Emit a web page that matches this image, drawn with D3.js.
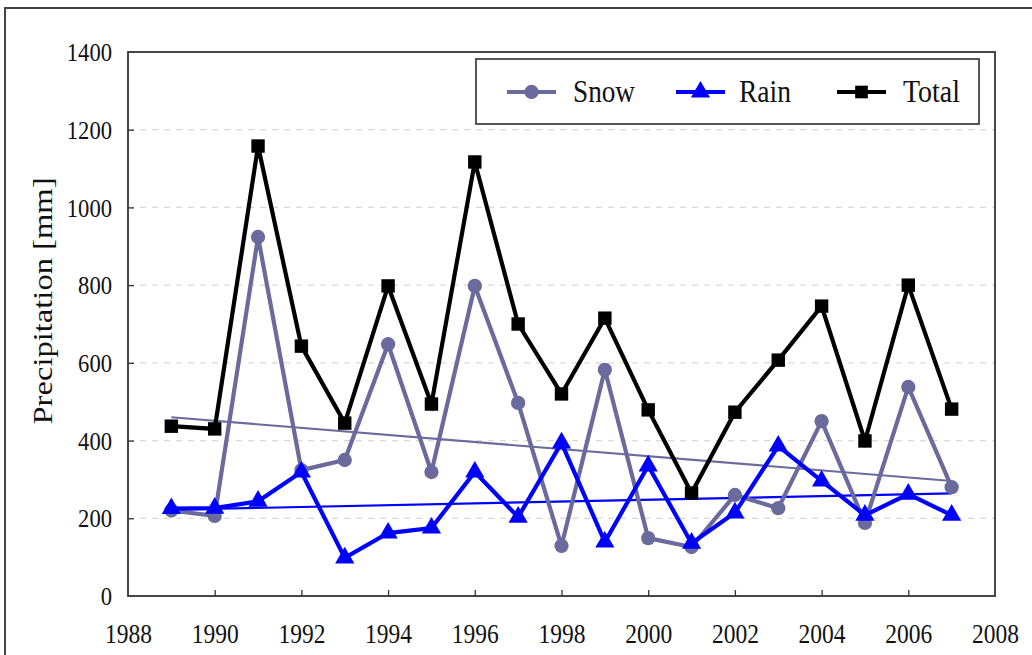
<!DOCTYPE html>
<html><head><meta charset="utf-8">
<script src="https://d3js.org/d3.v7.min.js"></script>
<style>body{margin:0;background:#fff}svg{display:block}</style>
</head><body>
<script>
const years = [1989,1990,1991,1992,1993,1994,1995,1996,1997,1998,1999,2000,2001,2002,2003,2004,2005,2006,2007];
const snow  = [220,206,924,324,350,648,319,798,497,129,582,149,126,260,226,450,188,538,280];
const rain  = [225,226,244,319,98,162,175,319,203,394,139,335,136,214,386,296,208,262,208];
const total = [437,430,1158,643,445,798,494,1117,700,520,715,479,265,473,607,746,399,800,481];
const snowTrend = [[1989,460],[2007,296]];
const rainTrend = [[1989,222],[2007,264]];
const xTicks = [1988,1990,1992,1994,1996,1998,2000,2002,2004,2006,2008];
const yTicks = [0,200,400,600,800,1000,1200,1400];
const seriesNames = ["Snow","Rain","Total"];

const W=1032,H=655;
const svg=d3.select("body").append("svg").attr("width",W).attr("height",H);
const font="'Liberation Serif', 'DejaVu Serif', serif";
// outer frame
svg.append("rect").attr("x",5).attr("y",8).attr("width",1100).attr("height",700)
  .attr("fill","none").attr("stroke","#444").attr("stroke-width",2);

const L=128,R=995,T=52,B=596;
const x=d3.scaleLinear().domain([1988,2008]).range([L,R]);
const y=d3.scaleLinear().domain([0,1400]).range([B,T]);

// grid
svg.append("g").selectAll("line").data(yTicks.filter(d=>d>0&&d<1400)).join("line")
  .attr("x1",L).attr("x2",R).attr("y1",d=>y(d)).attr("y2",d=>y(d))
  .attr("stroke","#d8d8d8").attr("stroke-width",1.2).attr("stroke-dasharray","6,6");

// axes
const gx=svg.append("g").attr("transform",`translate(0,${B})`)
  .call(d3.axisBottom(x).tickValues(xTicks).tickFormat(d3.format("d")).tickSizeInner(-6).tickSizeOuter(0));
const gy=svg.append("g").attr("transform",`translate(${L},0)`)
  .call(d3.axisLeft(y).tickValues(yTicks).tickFormat(d3.format("d")).tickSizeInner(-6).tickSizeOuter(0));
[gx,gy].forEach(g=>{
  g.select(".domain").remove();
  g.selectAll("line").attr("stroke","#333").attr("stroke-width",1.3);
  g.selectAll("text").attr("font-family",font).attr("fill","#111");
});
gx.selectAll("text").attr("font-size",27).attr("y",47).attr("dy",0)
  .attr("textLength",47).attr("lengthAdjust","spacingAndGlyphs");
gy.selectAll("text").attr("font-size",26).attr("x",-16).attr("dy","0.33em")
  .attr("textLength",d=>String(d).length*11.3).attr("lengthAdjust","spacingAndGlyphs");
gx.selectAll(".tick").filter(d=>d===1988||d===2008).select("line").remove();
gy.selectAll(".tick").filter(d=>d===0||d===1400).select("line").remove();
// plot box
svg.append("rect").attr("x",L).attr("y",T).attr("width",R-L).attr("height",B-T)
  .attr("fill","none").attr("stroke","#333").attr("stroke-width",1.8);

// y title
svg.append("text").attr("transform",`translate(52,301) rotate(-90)`)
  .attr("text-anchor","middle").attr("font-family",font).attr("font-size",27).attr("fill","#111")
  .attr("textLength",247).attr("lengthAdjust","spacingAndGlyphs")
  .text("Precipitation [mm]");

const snowC="#6a6a9c", rainC="#0000ff", totC="#000";
// trend lines
const tl=d3.line().x(d=>x(d[0])).y(d=>y(d[1]));
svg.append("path").datum(snowTrend).attr("d",tl).attr("stroke",snowC).attr("stroke-width",2.2).attr("fill","none");
svg.append("path").datum(rainTrend).attr("d",tl).attr("stroke",rainC).attr("stroke-width",2.2).attr("fill","none");

const line=d3.line().x((d,i)=>x(years[i])).y(d=>y(d));
function series(vals,color,shape,size){
  svg.append("path").datum(vals).attr("d",line).attr("stroke",color).attr("stroke-width",4.2)
    .attr("fill","none").attr("stroke-linejoin","miter");
  svg.append("g").selectAll("path").data(vals).join("path")
    .attr("transform",(d,i)=>`translate(${x(years[i])},${y(d)})`)
    .attr("d",d3.symbol().type(shape).size(size)).attr("fill",color);
}
series(snow,snowC,d3.symbolCircle,160);
series(rain,rainC,d3.symbolTriangle,160);
series(total,totC,d3.symbolSquare,180);

// legend
svg.append("rect").attr("x",476).attr("y",59).attr("width",503).attr("height",65)
  .attr("fill","#fff").attr("stroke","#444").attr("stroke-width",1.8);
const leg=[{n:seriesNames[0],c:snowC,s:d3.symbolCircle,x0:507,tx:573,w:62},
           {n:seriesNames[1],c:rainC,s:d3.symbolTriangle,x0:676,tx:739,w:52},
           {n:seriesNames[2],c:totC,s:d3.symbolSquare,x0:837,tx:903,w:57}];
leg.forEach(l=>{
  svg.append("line").attr("x1",l.x0).attr("x2",l.x0+49).attr("y1",92).attr("y2",92)
    .attr("stroke",l.c).attr("stroke-width",4);
  svg.append("path").attr("transform",`translate(${l.x0+24.5},92)`)
    .attr("d",d3.symbol().type(l.s).size(160)).attr("fill",l.c);
  svg.append("text").attr("x",l.tx).attr("y",102).attr("font-family",font).attr("font-size",32)
    .attr("textLength",l.w).attr("lengthAdjust","spacingAndGlyphs")
    .attr("fill","#111").text(l.n);
});
</script>
</body></html>
